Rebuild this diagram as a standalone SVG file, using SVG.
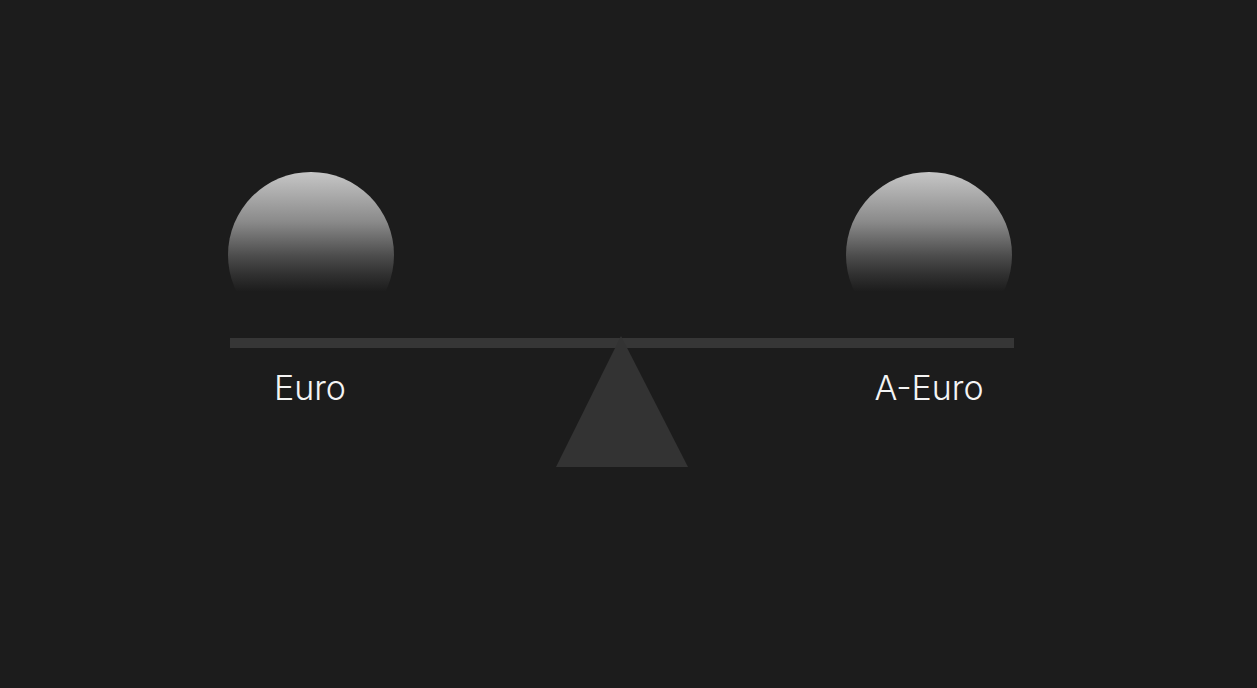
<svg xmlns="http://www.w3.org/2000/svg" width="1257" height="688" viewBox="0 0 1257 688">
  <defs>
    <linearGradient id="ballGrad" x1="0" y1="0" x2="0" y2="1">
      <stop offset="0" stop-color="#c6c6c6"/>
      <stop offset="0.3" stop-color="#8a8a8a"/>
      <stop offset="0.5" stop-color="#4e4e4e"/>
      <stop offset="0.62" stop-color="#303030"/>
      <stop offset="0.72" stop-color="#1c1c1c"/>
      <stop offset="1" stop-color="#1c1c1c"/>
    </linearGradient>
  </defs>
  <style>
    .lbl { font-family: Inter, "Noto Sans", "Liberation Sans", sans-serif; font-weight: 300; font-size: 34px; fill: #f4f4f4; text-anchor: middle; }
    .ball { fill: url(#ballGrad); }
  </style>
  <rect x="0" y="0" width="1257" height="688" fill="#1c1c1c"/>
  <g id="beam">
    <rect x="230" y="338" width="784" height="10" fill="#363636"/>
  </g>
  <g id="fulcrum">
    <polygon points="621,336 688,467 556,467" fill="#333333"/>
  </g>
  <g id="euro">
    <circle class="ball" cx="311" cy="255" r="83"/>
    <text class="lbl" x="310" y="400">Euro</text>
  </g>
  <g id="a-euro">
    <circle class="ball" cx="929" cy="255" r="83"/>
    <text class="lbl" x="929" y="400">A-Euro</text>
  </g>
  <g id="connectors"/>
</svg>
